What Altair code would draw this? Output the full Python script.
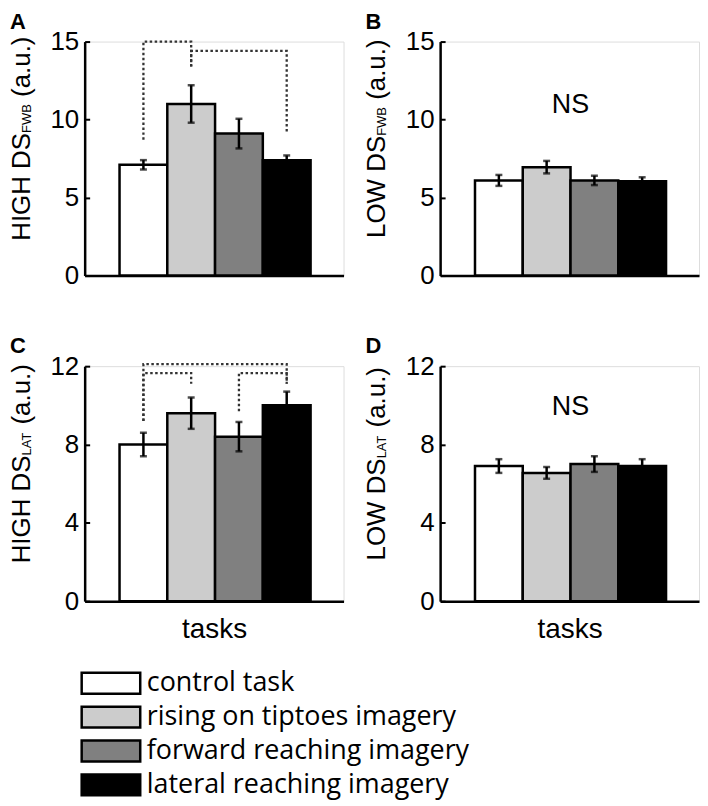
import altair as alt
import pandas as pd

# ---------------- data ----------------
tasks = ["control task", "rising on tiptoes imagery",
         "forward reaching imagery", "lateral reaching imagery"]
task_colors = ["#ffffff", "#cccccc", "#808080", "#000000"]
positions = [1, 2, 3, 4]

panel_letters = ["A", "B", "C", "D"]
main_titles = ["HIGH DS", "LOW DS", "HIGH DS", "LOW DS"]
sub_titles = ["FWB", "FWB", "LAT", "LAT"]
unit_title = "(a.u.)"
x_title = "tasks"
ns_label = "NS"

a_means = [7.1, 11.0, 9.1, 7.4]
a_errs = [0.3, 1.2, 0.95, 0.3]
b_means = [6.1, 6.95, 6.1, 6.05]
b_errs = [0.35, 0.4, 0.3, 0.25]
c_means = [8.0, 9.6, 8.4, 10.0]
c_errs = [0.6, 0.8, 0.75, 0.7]
d_means = [6.9, 6.55, 7.0, 6.9]
d_errs = [0.35, 0.3, 0.4, 0.35]

top_ymax = 15
top_ticks = [0, 5, 10, 15]
bottom_ymax = 12
bottom_ticks = [0, 4, 8, 12]

# significance brackets: (from task, to task, bracket height, left foot, right foot)
brackets_a = [(1, 2, 15.0, 8.7, 13.4), (2, 4, 14.4, 13.4, 9.1)]
brackets_c = [(1, 4, 12.1, 9.2, 11.1), (1, 2, 11.65, 9.2, 11.1), (3, 4, 11.65, 9.7, 11.1)]

ns_b = (2.5, 10.9)
ns_d = (2.5, 9.9)

# ---------------- layout / style ----------------
FONT = "Liberation Sans"
PANEL_W = 260
TOP_H = 235
BOT_H = 236
X_DOMAIN = [-0.23, 5.19]
MAIN_FS = 26
SUB_FS = 13
TITLE_X = -55
LEG_FS = 27

# Arial / Liberation Sans advance widths (em)
ARIAL_W = {"H": .722, "I": .278, "G": .778, "D": .722, "S": .667, "L": .556,
           "O": .778, "W": .944, " ": .278, "F": .611, "B": .667, "A": .667,
           "T": .611, "(": .333, ")": .333, "a": .556, ".": .278, "u": .556}


def text_w(s, fs):
    return sum(ARIAL_W.get(ch, 0.6) for ch in s) * fs


def make_panel(letter, means, errs, ymax, yticks, main, sub, brackets, ns, show_xtitle, height):
    df = pd.DataFrame({"task": tasks, "pos": positions, "mean": means, "err": errs})
    df["left"] = df["pos"] - 0.5
    df["right"] = df["pos"] + 0.5
    df["low"] = df["mean"] - df["err"]
    df["high"] = df["mean"] + df["err"]

    xscale = alt.Scale(domain=X_DOMAIN, nice=False, zero=False)
    yscale = alt.Scale(domain=[0, ymax], nice=False, zero=True)

    xaxis_kw = dict(labels=False, ticks=False, grid=False, domain=True,
                    domainColor="black", domainWidth=2.5)
    if show_xtitle:
        xaxis_kw.update(title=x_title, titleFont=FONT, titleFontSize=28,
                        titleFontWeight="normal", titleColor="black", titlePadding=15)
        xaxis = alt.Axis(**xaxis_kw)
    else:
        xaxis = alt.Axis(title=None, **xaxis_kw)

    yaxis_left = alt.Axis(values=yticks, title=None, ticks=False, tickSize=0, grid=False,
                          domain=True, domainColor="black", domainWidth=2.5,
                          labelFont=FONT, labelFontSize=26, labelColor="black",
                          labelPadding=6, labelFlush=False, labelOverlap=False)
    yaxis_right = alt.Axis(orient="right", offset=-PANEL_W, values=yticks, title=None,
                           labels=False, domain=False, ticks=True, tickSize=5,
                           tickWidth=2, tickColor="black", grid=False)

    legend = alt.Legend(title=None, orient="none", legendX=12.9, legendY=631,
                        direction="vertical", symbolType="M-2.8,-1H2.8V1H-2.8Z",
                        symbolSize=441, symbolStrokeColor="black", symbolStrokeWidth=2.5,
                        labelFont="Open Sans", labelFontSize=LEG_FS, labelColor="black",
                        labelOffset=22.5, rowPadding=3, padding=0, labelLimit=0,
                        symbolOffset=0)

    bars = alt.Chart(df).mark_bar(stroke="black", strokeWidth=2.5).encode(
        x=alt.X("left:Q", scale=xscale, axis=xaxis),
        x2="right:Q",
        y=alt.Y("mean:Q", scale=yscale, axis=yaxis_left),
        y2=alt.datum(0),
        fill=alt.Fill("task:N", scale=alt.Scale(domain=tasks, range=task_colors),
                      legend=legend, sort=tasks),
    )

    rules = alt.Chart(df).mark_rule(color="black", strokeWidth=2.5).encode(
        x=alt.X("pos:Q", scale=xscale, axis=None),
        y=alt.Y("low:Q", scale=yscale, axis=yaxis_right),
        y2="high:Q",
    )

    caps = alt.Chart(df).transform_fold(["low", "high"], as_=["end", "val"]).mark_tick(
        color="black", thickness=2.5, size=7, orient="horizontal"
    ).encode(
        x=alt.X("pos:Q", scale=xscale, axis=None),
        y=alt.Y("val:Q", scale=yscale, axis=None),
    )

    layers = [bars, rules, caps]

    if brackets:
        rows = []
        for i, (f, t, h, fl, fr) in enumerate(brackets):
            rows += [
                {"bid": i, "ord": 0, "bx": f, "by": fl},
                {"bid": i, "ord": 1, "bx": f, "by": h},
                {"bid": i, "ord": 2, "bx": t, "by": h},
                {"bid": i, "ord": 3, "bx": t, "by": fr},
            ]
        bdf = pd.DataFrame(rows)
        lines = alt.Chart(bdf).mark_line(color="#333333", strokeWidth=2.3,
                                         strokeDash=[2.5, 2.5]).encode(
            x=alt.X("bx:Q", scale=xscale, axis=None),
            y=alt.Y("by:Q", scale=yscale, axis=None),
            detail="bid:N",
            order="ord:Q",
        )
        layers.append(lines)

    if ns:
        ndf = pd.DataFrame({"t": [ns_label], "nx": [ns[0]], "ny": [ns[1]]})
        nst = alt.Chart(ndf).mark_text(font=FONT, fontSize=27, color="black",
                                       align="center", baseline="middle").encode(
            x=alt.X("nx:Q", scale=xscale, axis=None),
            y=alt.Y("ny:Q", scale=yscale, axis=None),
            text="t:N",
        )
        layers.append(nst)

    # panel letter
    let = alt.Chart(pd.DataFrame({"t": [letter]})).mark_text(
        font=FONT, fontSize=22, fontWeight="bold", color="black",
        align="left", baseline="top"
    ).encode(text="t:N", x=alt.value(-75), y=alt.value(-30))
    layers.append(let)

    # y title with subscript, built from three rotated pieces
    w1 = text_w(main, MAIN_FS)
    w2 = text_w(sub, SUB_FS)
    w3 = text_w(" " + unit_title, MAIN_FS)
    total = w1 + w2 + w3
    y_b = height / 2 - 20 + total / 2
    pieces = [
        (main, MAIN_FS, TITLE_X, y_b),
        (sub, SUB_FS, TITLE_X + 1, y_b - w1),
        (unit_title, MAIN_FS, TITLE_X, y_b - w1 - w2 - text_w(" ", MAIN_FS)),
    ]
    for txt, fs, px, py in pieces:
        layers.append(
            alt.Chart(pd.DataFrame({"t": [txt]})).mark_text(
                font=FONT, fontSize=fs, color="black", angle=270,
                align="left", baseline="alphabetic"
            ).encode(text="t:N", x=alt.value(px), y=alt.value(py))
        )

    return alt.layer(*layers).resolve_axis(x="independent", y="independent").properties(
        width=PANEL_W, height=height
    )


pA = make_panel(panel_letters[0], a_means, a_errs, top_ymax, top_ticks,
                main_titles[0], sub_titles[0], brackets_a, None, False, TOP_H)
pB = make_panel(panel_letters[1], b_means, b_errs, top_ymax, top_ticks,
                main_titles[1], sub_titles[1], None, ns_b, False, TOP_H)
pC = make_panel(panel_letters[2], c_means, c_errs, bottom_ymax, bottom_ticks,
                main_titles[2], sub_titles[2], brackets_c, None, True, BOT_H)
pD = make_panel(panel_letters[3], d_means, d_errs, bottom_ymax, bottom_ticks,
                main_titles[3], sub_titles[3], None, ns_d, True, BOT_H)

chart = alt.concat(
    pA, pB, pC, pD, columns=2, bounds="flush",
    spacing={"row": 91, "column": 97},
).properties(padding=0).configure_view(stroke="transparent").configure(
    background="white", font=FONT
)

chart.save("out.html", embed_options={"renderer": "svg", "actions": False})
